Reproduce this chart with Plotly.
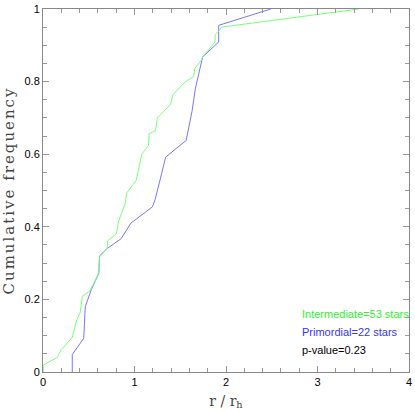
import plotly.graph_objects as go

# Intermediate population (53 stars): r/r_h and cumulative frequency
inter_r = [0.003, 0.003, 0.155, 0.20, 0.32, 0.34, 0.365, 0.408, 0.43, 0.51, 0.575, 0.61,
           0.618, 0.70, 0.708, 0.80, 0.827, 0.90, 0.914, 1.02, 1.05, 1.08, 1.153, 1.16,
           1.23, 1.25, 1.395, 1.42, 1.557, 1.648, 1.658, 1.73, 1.745, 1.88, 1.88, 1.935,
           1.95, 3.45]
inter_cf = [0.0, 0.019, 0.040, 0.062, 0.095, 0.115, 0.14, 0.166, 0.209, 0.223, 0.254, 0.276,
            0.317, 0.34, 0.362, 0.38, 0.416, 0.466, 0.493, 0.529, 0.57, 0.60, 0.624, 0.656,
            0.665, 0.70, 0.737, 0.764, 0.80, 0.814, 0.836, 0.859, 0.868, 0.909, 0.929, 0.943,
            0.95, 1.0]

# Primordial population (22 stars)
prim_r = [0.32, 0.32, 0.445, 0.462, 0.528, 0.61, 0.618, 0.70, 0.853, 0.96, 1.196, 1.225,
          1.297, 1.34, 1.565, 1.60, 1.63, 1.666, 1.72, 1.745, 1.92, 1.92, 2.49]
prim_cf = [0.0, 0.048, 0.093, 0.18, 0.227, 0.272, 0.32, 0.34, 0.367, 0.41, 0.455, 0.475,
           0.547, 0.592, 0.638, 0.683, 0.72, 0.782, 0.836, 0.868, 0.909, 0.955, 1.0]

legend_texts = ["Intermediate=53 stars", "Primordial=22 stars", "p-value=0.23"]
legend_colors = ["#33ee33", "#3333ff", "#000000"]
legend_y = [0.161, 0.110, 0.060]

x_ticks = [0, 1, 2, 3, 4]
y_ticks = [0, 0.2, 0.4, 0.6, 0.8, 1]
y_tick_text = ["0", "0.2", "0.4", "0.6", "0.8", "1"]

fig = go.Figure()
fig.add_trace(go.Scatter(x=prim_r, y=prim_cf, mode="lines",
                         line=dict(color="#7777ff", width=1), showlegend=False))
fig.add_trace(go.Scatter(x=inter_r, y=inter_cf, mode="lines",
                         line=dict(color="#77ff77", width=1), showlegend=False))

for t, c, yv in zip(legend_texts, legend_colors, legend_y):
    fig.add_annotation(x=2.805, y=yv, xref="x", yref="y", text=t, showarrow=False,
                       xanchor="left", yanchor="middle",
                       font=dict(family="Liberation Sans", size=11, color=c))

axis_common = dict(showgrid=False, zeroline=False, showline=True, linecolor="#888888",
                   linewidth=1, mirror="ticks", ticks="inside", ticklen=6,
                   tickcolor="#999999", tickwidth=1, ticklabeloverflow="allow",
                   tickfont=dict(family="Liberation Sans", size=11, color="#000000"))

fig.update_xaxes(range=[0, 4], tickvals=x_ticks, ticktext=[str(v) for v in x_ticks],
                 minor=dict(dtick=0.2, ticks="inside", ticklen=4, tickcolor="#999999"),
                 title=dict(text="r / r<sub>h</sub>", standoff=8,
                            font=dict(family="DejaVu Serif", size=14, color="#444444")),
                 **axis_common)
fig.update_yaxes(range=[0, 1], tickvals=y_ticks, ticktext=y_tick_text,
                 minor=dict(dtick=0.05, ticks="inside", ticklen=4, tickcolor="#999999"),
                 title=dict(text="Cumulative frequency", standoff=6,
                            font=dict(family="DejaVu Serif", size=15, color="#444444")),
                 **axis_common)

fig.update_layout(width=415, height=411, margin=dict(l=43, r=3, t=3, b=39),
                  plot_bgcolor="white", paper_bgcolor="white")

post = """
document.body.style.margin = '0';
document.body.style.padding = '0';
var yt = document.querySelector('.ytitle');
if (yt) { yt.style.letterSpacing = '2px'; }
"""

fig.write_html("out.html", post_script=post, config={"displayModeBar": False})
